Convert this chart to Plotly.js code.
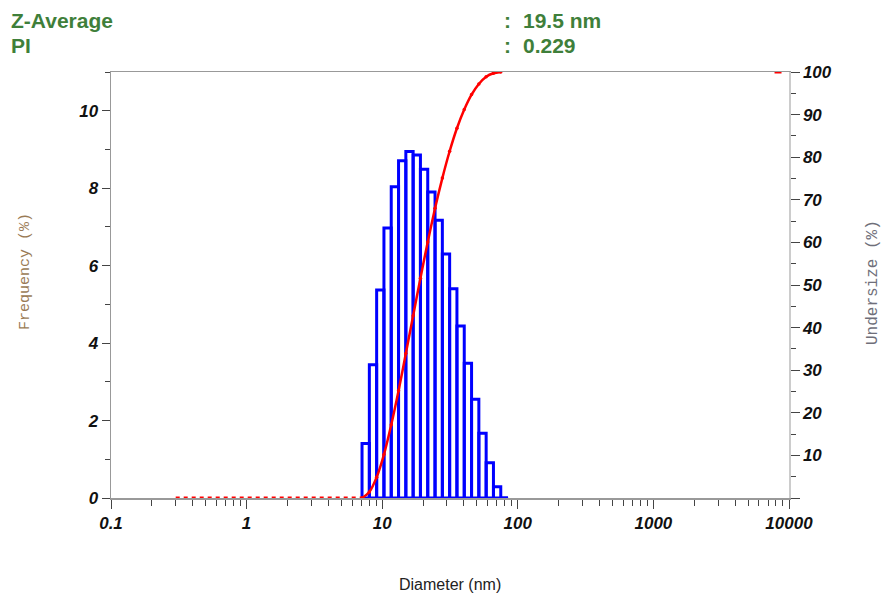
<!DOCTYPE html>
<html><head><meta charset="utf-8">
<script src="https://cdn.plot.ly/plotly-3.0.1.min.js"></script>
<style>html,body{margin:0;padding:0;background:#fff}#chart{width:884px;height:599px}</style>
</head><body><div id="chart"></div>
<script>
// Size-class edges (nm) of the drawn bins
const binEdges = [7.10, 8.04, 9.10, 10.30, 11.66, 13.20, 14.94, 16.91, 19.14, 21.67, 24.53, 27.77, 31.43, 35.58, 40.28, 45.60, 51.61, 58.43, 66.14, 74.87, 84.75];
// Frequency (%) for each bin
const frequency = [1.41, 3.44, 5.37, 6.97, 8.04, 8.71, 8.95, 8.86, 8.49, 7.90, 7.17, 6.30, 5.40, 4.44, 3.48, 2.55, 1.67, 0.91, 0.29, 0];
// Undersize (%) at each bin edge
const undersizeX = [7.10, 8.04, 9.10, 10.30, 11.66, 13.20, 14.94, 16.91, 19.14, 21.67, 24.53, 27.77, 31.43, 35.58, 40.28, 45.60, 51.61, 58.43, 66.14, 74.87];
const undersize = [0, 1.4, 4.9, 10.2, 17.2, 25.2, 33.9, 42.8, 51.6, 60.1, 68.0, 75.1, 81.4, 86.8, 91.2, 94.7, 97.2, 98.9, 99.7, 100];
// Zero-undersize region (dotted)
const zeroX = [0.3, 7.10];
const zeroY = [0, 0];
// Tail end point at 100 %
const tailX = [8300];
const tailY = [100];
// Axis ticks
const xTickVals = [0.1, 1, 10, 100, 1000, 10000];
const xTickText = ['0.1', '1', '10', '100', '1000', '10000'];
const yTickVals = [0, 2, 4, 6, 8, 10];
const y2TickVals = [0, 10, 20, 30, 40, 50, 60, 70, 80, 90, 100];
const y2TickText = ['', '10', '20', '30', '40', '50', '60', '70', '80', '90', '100'];
// Header
const headerLabels = ['Z-Average', 'PI'];
const headerValues = ['19.5 nm', '0.229'];

// Build histogram outline
const bx = [], by = [];
for (let i = 0; i < frequency.length; i++) {
  bx.push(binEdges[i], binEdges[i], binEdges[i + 1], binEdges[i + 1], null);
  by.push(0, frequency[i], frequency[i], 0, null);
}
bx.push(binEdges[0], binEdges[binEdges.length - 1]);
by.push(0, 0);

const red = '#ff0000';
const traces = [
  {x: bx, y: by, type: 'scatter', mode: 'lines', line: {color: '#0000ff', width: 3}, connectgaps: false, hoverinfo: 'skip', showlegend: false},
  {x: zeroX, y: zeroY, yaxis: 'y2', type: 'scatter', mode: 'lines', line: {color: red, width: 3, dash: '4px,4px'}, showlegend: false},
  {x: undersizeX, y: undersize, yaxis: 'y2', type: 'scatter', mode: 'lines+markers', line: {color: red, width: 2.5, shape: 'spline', smoothing: 0.8}, marker: {color: red, size: 3.5}, showlegend: false},
  {x: tailX, y: tailY, yaxis: 'y2', type: 'scatter', mode: 'markers', marker: {color: red, symbol: 'line-ew', size: 5, line: {color: red, width: 3}}, showlegend: false}
];

const tickFont = {family: 'Liberation Sans, Arial, sans-serif', size: 17, weight: 'bold', style: 'italic', color: '#111'};
const green = '#3f7f3a';
const hdrFont = {family: 'Liberation Sans, Arial, sans-serif', size: 21, weight: 'bold', color: green};

const ann = [];
headerLabels.forEach((t, i) => {
  const yp = (498 - (20 + 25 * i)) / 426;
  ann.push({xref: 'paper', yref: 'paper', x: (9 - 111) / 678, y: yp, xanchor: 'left', yanchor: 'middle', text: '<b>' + t + '</b>', showarrow: false, font: hdrFont});
  ann.push({xref: 'paper', yref: 'paper', x: (502 - 111) / 678, y: yp, xanchor: 'left', yanchor: 'middle', text: '<b>:</b>', showarrow: false, font: hdrFont});
  ann.push({xref: 'paper', yref: 'paper', x: (521 - 111) / 678, y: yp, xanchor: 'left', yanchor: 'middle', text: '<b>' + headerValues[i] + '</b>', showarrow: false, font: hdrFont});
});
ann.push({xref: 'paper', yref: 'paper', x: (25 - 111) / 678, y: (498 - 271) / 426, xanchor: 'center', yanchor: 'middle', textangle: -90, text: 'Frequency (%)', showarrow: false, font: {family: 'Liberation Mono, Courier New, monospace', size: 15, color: '#9a7b55'}});
ann.push({xref: 'paper', yref: 'paper', x: (873 - 111) / 678, y: (498 - 283) / 426, xanchor: 'center', yanchor: 'middle', textangle: -90, text: 'Undersize (%)', showarrow: false, font: {family: 'Liberation Mono, Courier New, monospace', size: 16, color: '#6f6f7a'}});
ann.push({xref: 'paper', yref: 'paper', x: 0.5, y: (498 - 584) / 426, xanchor: 'center', yanchor: 'middle', text: 'Diameter (nm)', showarrow: false, font: {family: 'Liberation Sans, Arial, sans-serif', size: 16, color: '#222'}});

const layout = {
  width: 884, height: 599,
  margin: {l: 111, r: 95, t: 72, b: 101, pad: 0},
  paper_bgcolor: '#fff', plot_bgcolor: '#fff',
  showlegend: false,
  xaxis: {
    type: 'log', range: [-1, 4], tickmode: 'array', tickvals: xTickVals, ticktext: xTickText,
    ticks: 'outside', ticklen: 9, tickwidth: 1, tickcolor: '#444',
    minor: {dtick: 'D1', ticks: 'outside', ticklen: 6, tickwidth: 1, tickcolor: '#444', showgrid: false},
    showline: true, linecolor: '#999', linewidth: 1.5, mirror: true,
    showgrid: false, zeroline: false, tickfont: tickFont
  },
  yaxis: {
    range: [0, 11], tickmode: 'array', tickvals: yTickVals,
    ticks: 'outside', ticklen: 8, tickwidth: 1, tickcolor: '#444',
    minor: {dtick: 1, ticks: 'outside', ticklen: 5, tickwidth: 1, tickcolor: '#444', showgrid: false},
    showline: true, linecolor: '#999', linewidth: 1.5,
    showgrid: false, zeroline: false, tickfont: tickFont
  },
  yaxis2: {
    overlaying: 'y', side: 'right', range: [0, 100], tickmode: 'array', tickvals: y2TickVals, ticktext: y2TickText,
    ticks: 'outside', ticklen: 9, tickwidth: 1, tickcolor: '#444',
    minor: {dtick: 5, ticks: 'outside', ticklen: 5, tickwidth: 1, tickcolor: '#444', showgrid: false},
    showline: true, linecolor: '#ccc', linewidth: 1.5,
    showgrid: false, zeroline: false, tickfont: tickFont
  },
  annotations: ann
};

Plotly.newPlot('chart', traces, layout, {displayModeBar: false, staticPlot: true});
</script>
</body></html>
